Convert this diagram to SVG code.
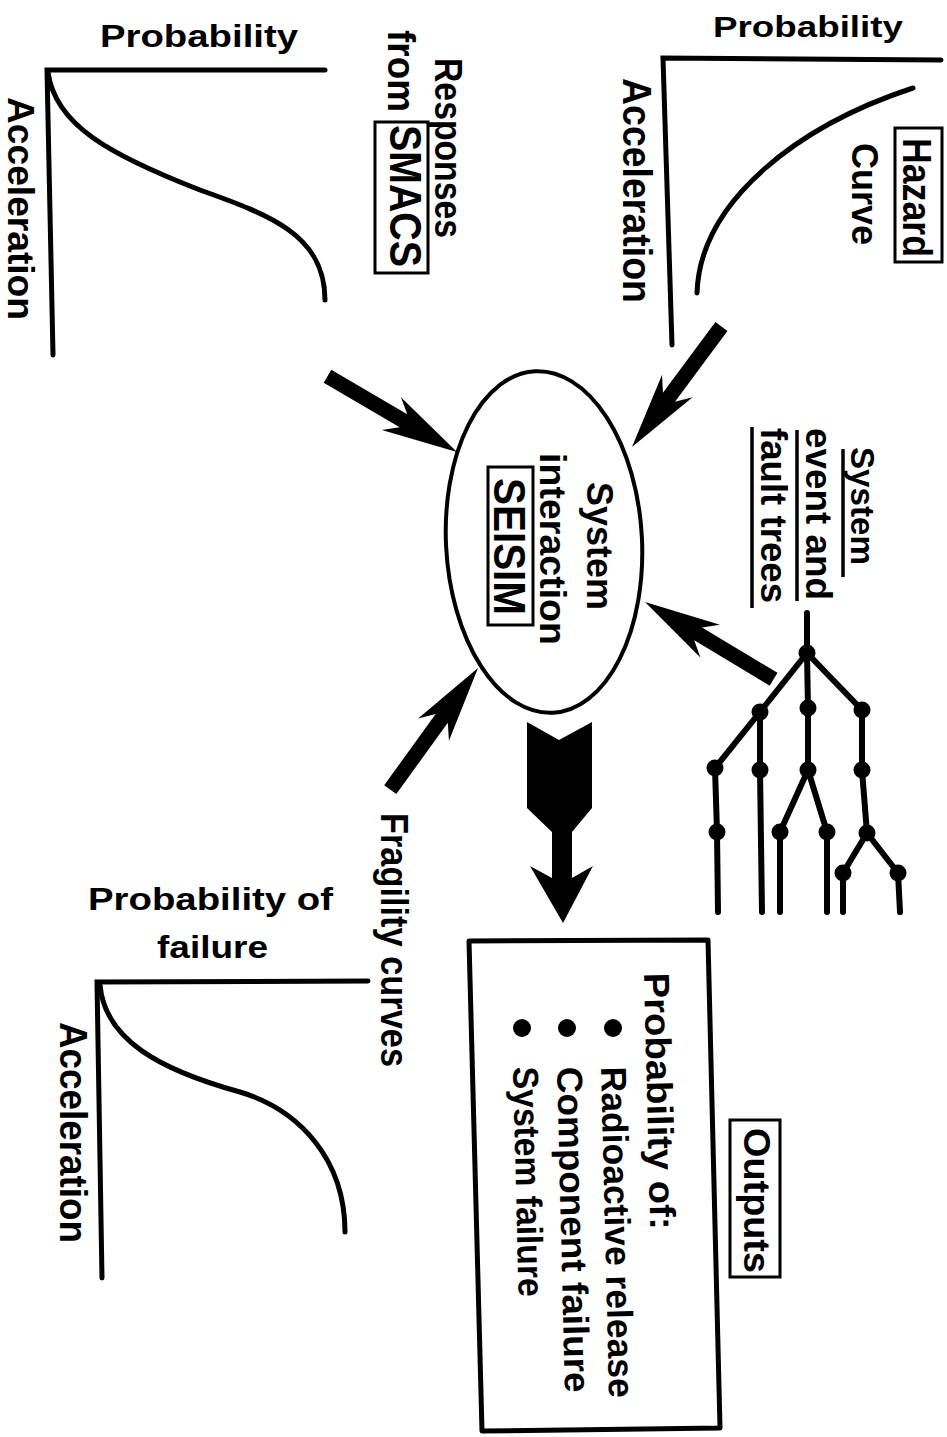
<svg xmlns="http://www.w3.org/2000/svg" xmlns:xlink="http://www.w3.org/1999/xlink" width="947" height="1437" viewBox="0 0 947 1437">
<style>
.t{font-family:"Liberation Sans",Arial,Helvetica,sans-serif;font-weight:bold;fill:#000}
.ax{stroke:#000;stroke-width:5;fill:none;stroke-linecap:round}
.box{fill:none;stroke:#000;stroke-width:3}
.tree{stroke:#000;stroke-width:6;fill:none;stroke-linecap:round;stroke-linejoin:round}
.arr{fill:#000}
</style>
<defs>
<path id="arrow" d="M0,0 L-76,-19 L-62,-7.5 L-150,-7.5 L-150,7.5 L-62,7.5 L-76,19 Z"/>
</defs>
<rect x="0" y="0" width="947" height="1437" fill="#fff"/>

<g id="chart-responses">
<text class="t" x="100" y="47" font-size="31" textLength="198" lengthAdjust="spacingAndGlyphs">Probability</text>
<path class="ax" d="M325,70 L47,70 L53,355"/>
<path class="ax" d="M48,72 C55,125 110,155 200,190 C270,215 325,235 325,300"/>
<text class="t" font-size="37" textLength="223" lengthAdjust="spacingAndGlyphs" transform="translate(8,97) rotate(90)">Acceleration</text>
<text class="t" font-size="38" textLength="180" lengthAdjust="spacingAndGlyphs" transform="translate(435,58) rotate(90)">Responses</text>
<text class="t" font-size="38" textLength="82" lengthAdjust="spacingAndGlyphs" transform="translate(388,30) rotate(90)">from</text>
<rect class="box" x="375" y="122" width="53" height="151"/>
<text class="t" font-size="44" textLength="142" lengthAdjust="spacingAndGlyphs" transform="translate(390,125) rotate(90)">SMACS</text>
</g>

<g id="chart-hazard">
<text class="t" x="713" y="37" font-size="30" textLength="190" lengthAdjust="spacingAndGlyphs">Probability</text>
<path class="ax" d="M941,60 L663,58 L672,345"/>
<path class="ax" d="M913,88 C800,125 700,200 697,293"/>
<text class="t" font-size="40" textLength="225" lengthAdjust="spacingAndGlyphs" transform="translate(623,78) rotate(90)">Acceleration</text>
<rect class="box" x="895" y="128" width="47" height="134"/>
<text class="t" font-size="40" textLength="119" lengthAdjust="spacingAndGlyphs" transform="translate(903,138) rotate(90)">Hazard</text>
<text class="t" font-size="36" textLength="102" lengthAdjust="spacingAndGlyphs" transform="translate(852,143) rotate(90)">Curve</text>
</g>

<g id="system-interaction">
<ellipse cx="544" cy="542" rx="98" ry="171" transform="rotate(-3 544 542)" fill="none" stroke="#000" stroke-width="4"/>
<text class="t" font-size="36" textLength="128" lengthAdjust="spacingAndGlyphs" transform="translate(587,482) rotate(90)">System</text>
<text class="t" font-size="36" textLength="192" lengthAdjust="spacingAndGlyphs" transform="translate(540,453) rotate(90)">interaction</text>
<rect class="box" x="488" y="467" width="45" height="158"/>
<text class="t" font-size="44" textLength="137" lengthAdjust="spacingAndGlyphs" transform="translate(494,478) rotate(90)">SEISIM</text>
</g>

<g id="fault-trees">
<text class="t" font-size="33" textLength="118" lengthAdjust="spacingAndGlyphs" transform="translate(851,447) rotate(90)">System</text>
<text class="t" font-size="36" textLength="172" lengthAdjust="spacingAndGlyphs" transform="translate(806,428) rotate(90)">event and</text>
<text class="t" font-size="36" textLength="175" lengthAdjust="spacingAndGlyphs" transform="translate(761,428) rotate(90)">fault trees</text>
<path d="M843,449 V577 M797,430 V601 M752,427 V608" stroke="#000" stroke-width="3.5"/>
<path class="tree" d="M807,613 V653 M807,653 L760,712 L715,768 L717,832 L718,912 M760,712 L760,770 L762,912 M807,653 L808,708 L808,770 L780,832 L780,912 M808,770 L827,832 L827,912 M807,653 L862,710 L862,770 L867,833 L843,873 L843,912 M867,833 L898,873 L900,912"/>
<g fill="#000">
<circle cx="807" cy="653" r="8.5"/><circle cx="760" cy="712" r="8.5"/><circle cx="808" cy="708" r="8.5"/><circle cx="862" cy="710" r="8.5"/>
<circle cx="715" cy="768" r="8.5"/><circle cx="760" cy="770" r="8.5"/><circle cx="808" cy="770" r="8.5"/><circle cx="862" cy="770" r="8.5"/>
<circle cx="717" cy="832" r="8.5"/><circle cx="780" cy="832" r="8.5"/><circle cx="827" cy="832" r="8.5"/><circle cx="867" cy="833" r="8.5"/>
<circle cx="843" cy="873" r="8.5"/><circle cx="898" cy="873" r="8.5"/>
</g>
</g>

<g id="chart-fragility">
<text class="t" font-size="38" textLength="254" lengthAdjust="spacingAndGlyphs" transform="translate(381,813) rotate(90)">Fragility curves</text>
<text class="t" x="88" y="910" font-size="32" textLength="245" lengthAdjust="spacingAndGlyphs">Probability of</text>
<text class="t" x="157" y="958" font-size="32" textLength="111" lengthAdjust="spacingAndGlyphs">failure</text>
<path class="ax" d="M368,981 L97,982 L102,1278"/>
<path class="ax" d="M100,985 C105,1040 160,1070 240,1092 C300,1110 345,1160 345,1232"/>
<text class="t" font-size="38" textLength="221" lengthAdjust="spacingAndGlyphs" transform="translate(60,1022) rotate(90)">Acceleration</text>
</g>

<g id="outputs">
<polygon points="469,941 708,940 720,1428 482,1431" fill="none" stroke="#000" stroke-width="5" stroke-linejoin="round"/>
<text class="t" font-size="36" textLength="257" lengthAdjust="spacingAndGlyphs" transform="translate(644,973) rotate(88.6)">Probability of:</text>
<circle cx="613" cy="1028" r="9"/>
<circle cx="567" cy="1028" r="9"/>
<circle cx="522" cy="1028" r="9"/>
<text class="t" font-size="36" textLength="331" lengthAdjust="spacingAndGlyphs" transform="translate(601,1067) rotate(88.6)">Radioactive release</text>
<text class="t" font-size="36" textLength="326" lengthAdjust="spacingAndGlyphs" transform="translate(557,1067) rotate(88.6)">Component failure</text>
<text class="t" font-size="36" textLength="230" lengthAdjust="spacingAndGlyphs" transform="translate(513,1067) rotate(88.6)">System failure</text>
<rect class="box" x="730" y="1120" width="50" height="157"/>
<text class="t" font-size="36" textLength="145" lengthAdjust="spacingAndGlyphs" transform="translate(744,1128) rotate(90)">Outputs</text>
</g>

<g id="connectors" class="arr">
<use xlink:href="#arrow" transform="translate(457,452) rotate(30.3)"/>
<use xlink:href="#arrow" transform="translate(632,447) rotate(126.6)"/>
<use xlink:href="#arrow" transform="translate(645,602) rotate(-149)"/>
<use xlink:href="#arrow" transform="translate(478,668) rotate(-54.2)"/>
<polygon points="527,722 559,740 592,722 592,808 572,832 572,878 593,866 563,923 530,866 552,878 552,832 527,808"/>
</g>
</svg>
